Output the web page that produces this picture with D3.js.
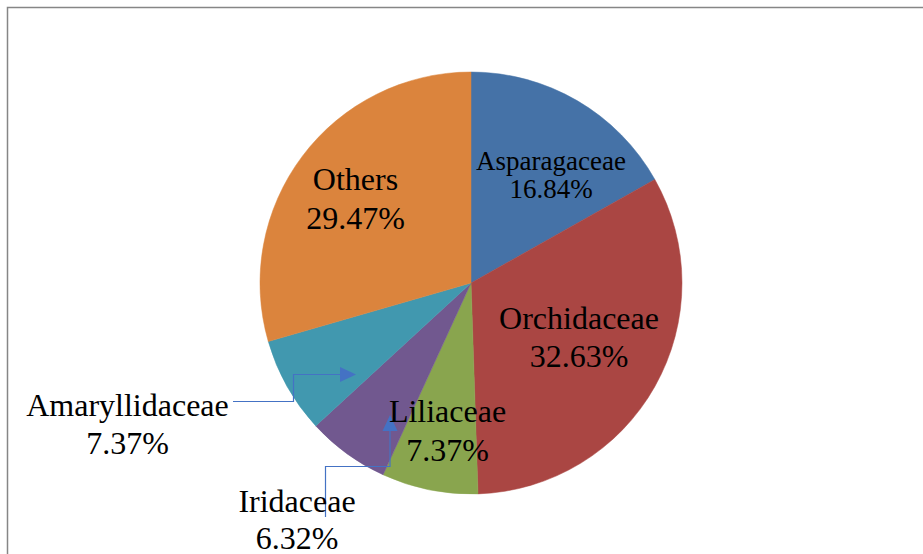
<!DOCTYPE html>
<html>
<head>
<meta charset="utf-8">
<script src="https://cdn.jsdelivr.net/npm/d3@7"></script>
<style>
  html, body { margin: 0; padding: 0; background: #fff; overflow: hidden; }
  svg { display: block; }
  text { font-family: "Liberation Serif", "Times New Roman", serif; fill: #000; }
</style>
</head>
<body>
<svg id="chart" width="923" height="554"></svg>
<script>
// ---- data ----
const categories = ["Asparagaceae", "Orchidaceae", "Liliaceae", "Iridaceae", "Amaryllidaceae", "Others"];
const values = [16.84, 32.63, 7.37, 6.32, 7.37, 29.47];
const percentLabels = ["16.84%", "32.63%", "7.37%", "6.32%", "7.37%", "29.47%"];
const colors = ["#4572A7", "#AA4643", "#89A54E", "#71588F", "#4198AF", "#DB843D"];

// ---- layout ----
const W = 923, H = 554;
const cx = 471, cy = 283, R = 211;
const labelLayout = {
  "Asparagaceae":   { x: 551,   y1: 169.5, y2: 197.5, size: 27 },
  "Orchidaceae":    { x: 579,   y1: 328.5, y2: 366.5, size: 32 },
  "Liliaceae":      { x: 447.5, y1: 421.5, y2: 460.5, size: 32 },
  "Iridaceae":      { x: 297,   y1: 512,   y2: 548.5, size: 32 },
  "Amaryllidaceae": { x: 127.5, y1: 415.5, y2: 454,   size: 32 },
  "Others":         { x: 355.5, y1: 190,   y2: 229,   size: 32 }
};
const connectors = {
  "Amaryllidaceae": [[233, 401.5], [293.5, 401.5], [293.5, 374.5], [340, 374.5]],
  "Iridaceae":      [[325.5, 517], [325.5, 466.5], [390, 466.5], [390, 431]]
};
const arrowLen = 16, arrowHalf = 7.5;

const svg = d3.select("#chart");

// frame
svg.append("rect")
  .attr("x", 7.5).attr("y", 7.5)
  .attr("width", W + 20).attr("height", H + 20)
  .attr("fill", "none").attr("stroke", "#868686").attr("stroke-width", 1.5);

const data = categories.map((c, i) => ({ name: c, value: values[i], pct: percentLabels[i], color: colors[i] }));

const pie = d3.pie().sort(null).value(d => d.value);
const arc = d3.arc().innerRadius(0).outerRadius(R);

const g = svg.append("g").attr("transform", `translate(${cx},${cy})`);
g.selectAll("path.slice")
  .data(pie(data))
  .join("path")
  .attr("class", "slice")
  .attr("d", arc)
  .attr("fill", d => d.data.color)
  .attr("stroke", d => d.data.color)
  .attr("stroke-width", 0.5);

const line = d3.line();
Object.entries(connectors).forEach(([k, pts]) => {
  svg.append("path")
    .attr("d", line(pts))
    .attr("fill", "none")
    .attr("stroke", "#4472C4")
    .attr("stroke-width", 1.2);
  // arrowhead at the end, pointing along the last segment
  const [x0, y0] = pts[pts.length - 2];
  const [x1, y1] = pts[pts.length - 1];
  const len = Math.hypot(x1 - x0, y1 - y0);
  const ux = (x1 - x0) / len, uy = (y1 - y0) / len;
  const px = -uy, py = ux;
  const tip = [x1 + ux * arrowLen, y1 + uy * arrowLen];
  const a = [x1 + px * arrowHalf, y1 + py * arrowHalf];
  const b = [x1 - px * arrowHalf, y1 - py * arrowHalf];
  svg.append("path")
    .attr("d", line([a, tip, b]) + "Z")
    .attr("fill", "#4472C4");
});

// labels
data.forEach(d => {
  const L = labelLayout[d.name];
  const t = svg.append("text")
    .attr("text-anchor", "middle")
    .attr("font-size", L.size);
  t.append("tspan").attr("x", L.x).attr("y", L.y1).text(d.name);
  t.append("tspan").attr("x", L.x).attr("y", L.y2).text(d.pct);
});
</script>
</body>
</html>
